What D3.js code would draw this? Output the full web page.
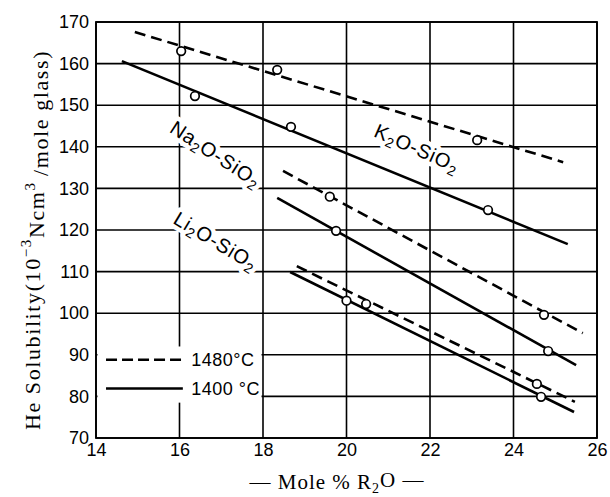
<!DOCTYPE html>
<html><head><meta charset="utf-8">
<script src="https://cdn.jsdelivr.net/npm/d3@7"></script>
<style>body{margin:0;background:#fff}svg{display:block}</style>
</head><body>
<svg id="c" width="610" height="497"></svg>
<script>
// ---- data ----
const xTicks = [14,16,18,20,22,24,26];
const yTicks = [70,80,90,100,110,120,130,140,150,160,170];
const systems = ["K2O-SiO2","Na2O-SiO2","Li2O-SiO2"];
const temps = ["1480°C","1400 °C"];
// fitted line endpoints [x0,y0,x1,y1]
const lineK1480 = [14.93,167.6,25.19,136.3];
const lineK1400 = [14.62,160.6,25.3,116.6];
const lineNa1480 = [18.48,134.2,25.66,95.2];
const lineNa1400 = [18.34,127.7,25.5,87.5];
const lineLi1480 = [18.81,111.3,25.47,78.7];
const lineLi1400 = [18.65,109.9,25.45,76.25];
// measured points [x,y]
const ptsK1480 = [[16.04,163],[18.34,158.5],[23.13,141.6]];
const ptsK1400 = [[16.37,152.2],[18.67,144.8],[23.39,124.8]];
const ptsNa1480 = [[19.6,128],[24.73,99.6]];
const ptsNa1400 = [[19.75,119.8],[24.83,90.9]];
const ptsLi1480 = [[20.47,102.2],[24.56,83.0]];
const ptsLi1400 = [[20.0,103],[24.66,79.9]];

const series = [
  {sys:0,temp:0,line:lineK1480,pts:ptsK1480},
  {sys:0,temp:1,line:lineK1400,pts:ptsK1400},
  {sys:1,temp:0,line:lineNa1480,pts:ptsNa1480},
  {sys:1,temp:1,line:lineNa1400,pts:ptsNa1400},
  {sys:2,temp:0,line:lineLi1480,pts:ptsLi1480},
  {sys:2,temp:1,line:lineLi1400,pts:ptsLi1400},
];

// ---- layout ----
const svg = d3.select("#c");
const L=96,R=597,T=22,B=438;
const x = d3.scaleLinear().domain([14,26]).range([L,R]);
const y = d3.scaleLinear().domain([70,170]).range([B,T]);
const sans = "'Liberation Sans', Arial, sans-serif";
const serif = "'Liberation Serif', 'Times New Roman', serif";

// grid
const g = svg.append("g");
g.selectAll(".vx").data(xTicks).join("line")
  .attr("x1",d=>x(d)).attr("x2",d=>x(d)).attr("y1",T).attr("y2",B)
  .attr("stroke","#000").attr("stroke-width",1.6);
g.selectAll(".hy").data(yTicks).join("line")
  .attr("y1",d=>y(d)).attr("y2",d=>y(d)).attr("x1",L).attr("x2",R)
  .attr("stroke","#000").attr("stroke-width",1.6);

// tick labels via d3 axes (no domain/tick lines)
const xa = svg.append("g").attr("transform",`translate(0,${B})`)
  .call(d3.axisBottom(x).tickValues(xTicks).tickSize(0).tickPadding(5));
xa.select(".domain").remove();
xa.selectAll("text").attr("font-family",sans).attr("font-size",18).attr("fill","#000");
const ya = svg.append("g").attr("transform",`translate(${L},0)`)
  .call(d3.axisLeft(y).tickValues(yTicks).tickSize(0).tickPadding(7));
ya.select(".domain").remove();
ya.selectAll("text").attr("font-family",sans).attr("font-size",18).attr("fill","#000");

// legend background + items
const lg = svg.append("g");
lg.append("rect").attr("x",L+1.5).attr("y",y(92)).attr("width",260-L).attr("height",y(78.5)-y(92)).attr("fill","#fff");
temps.forEach((t,i)=>{
  const yy = y(88.8 - i*6.9);
  lg.append("line").attr("x1",x(14.24)).attr("x2",x(16.08)).attr("y1",yy).attr("y2",yy)
    .attr("stroke","#000").attr("stroke-width",2.6).attr("stroke-dasharray",i===0?"11,5":null);
  lg.append("text").attr("x",x(16.28)).attr("y",yy).attr("dy","0.36em")
    .attr("font-family",sans).attr("font-size",18).attr("letter-spacing",0.5).text(t);
});

// system labels
const labelPos = [[21.69,139.7,24],[16.87,138.3,33],[16.87,117.4,31]];
const lbl = svg.append("g");
function drawLabel(s,i,halo){
  const [lx,ly,a] = labelPos[i];
  const m = s.match(/^(\w+?)(2)(O-SiO)(2)$/);
  const t = lbl.append("text").attr("transform",`translate(${x(lx)},${y(ly)}) rotate(${a})`)
    .attr("text-anchor","middle").attr("dy","0.35em")
    .attr("font-family",sans).attr("font-size",20).attr("letter-spacing",0.8);
  if(halo) t.attr("fill","#fff").attr("stroke","#fff").attr("stroke-width",9).attr("stroke-linejoin","round");
  t.append("tspan").text(m[1]);
  t.append("tspan").attr("font-size",14).attr("dy","0.3em").text(m[2]);
  t.append("tspan").attr("dy","-0.2em").text(m[3]);
  t.append("tspan").attr("font-size",14).attr("dy","0.3em").text(m[4]);
}
systems.forEach((s,i)=>drawLabel(s,i,true));
systems.forEach((s,i)=>drawLabel(s,i,false));

// data lines
const pl = svg.append("g");
pl.selectAll("line").data(series).join("line")
  .attr("x1",d=>x(d.line[0])).attr("y1",d=>y(d.line[1]))
  .attr("x2",d=>x(d.line[2])).attr("y2",d=>y(d.line[3]))
  .attr("stroke","#000").attr("stroke-width",2.6)
  .attr("stroke-dasharray",d=>d.temp===0?"11,6":null);
pl.selectAll("circle").data(series.flatMap(s=>s.pts)).join("circle")
  .attr("cx",d=>x(d[0])).attr("cy",d=>y(d[1])).attr("r",4.3)
  .attr("fill","#fff").attr("stroke","#000").attr("stroke-width",1.7);

// frame
svg.append("rect").attr("x",L).attr("y",T).attr("width",R-L).attr("height",B-T)
  .attr("fill","none").attr("stroke","#000").attr("stroke-width",1.8);

// axis titles
const yt = svg.append("text").attr("transform",`translate(40,240) rotate(-90)`)
  .attr("text-anchor","middle").attr("font-family",serif).attr("font-size",22).attr("letter-spacing",1.6);
yt.append("tspan").text("He Solubility(10");
yt.append("tspan").attr("font-size",15).attr("dy","-0.6em").text("−3");
yt.append("tspan").attr("dy","0.6em").text("Ncm");
yt.append("tspan").attr("font-size",15).attr("dy","-0.6em").text("3 ");
yt.append("tspan").attr("dy","0.6em").text("/mole glass)");

const xt = svg.append("text").attr("x",337).attr("y",489)
  .attr("text-anchor","middle").attr("font-family",serif).attr("font-size",21).attr("letter-spacing",1);
xt.append("tspan").text("— Mole % R");
xt.append("tspan").attr("font-size",14).attr("dy","0.3em").text("2");
xt.append("tspan").attr("dy","-0.3em").text("O —");
</script>
</body></html>
